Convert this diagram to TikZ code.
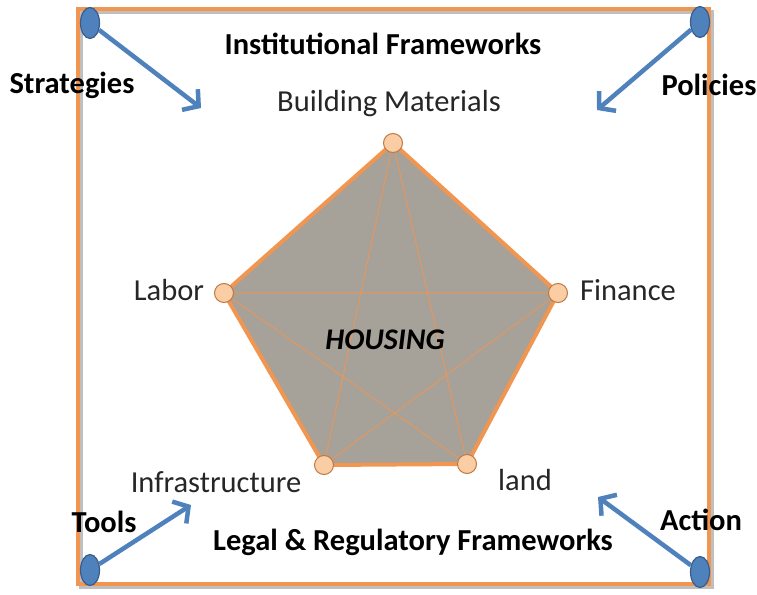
\documentclass[tikz,border=0pt]{standalone}
\usepackage{fontspec}
\setmainfont{Carlito}
\usetikzlibrary{arrows.meta}
\definecolor{frameor}{RGB}{240,150,80}
\definecolor{arrowblue}{RGB}{79,129,189}
\definecolor{darkblue}{RGB}{56,93,138}
\definecolor{pentfill}{RGB}{166,161,153}
\definecolor{peach}{RGB}{250,205,165}
\tikzset{
  corner/.style={ellipse, draw=darkblue, fill=arrowblue, line width=1.2pt, minimum width=19pt, minimum height=31pt, inner sep=0pt},
  bigarrow/.style={arrowblue, line width=4.5pt, -{Straight Barb[length=11pt,width=26pt,line width=4.5pt]}},
  boldlabel/.style={font=\fontsize{30.5}{33}\selectfont\bfseries, text=black},
  vlabel/.style={font=\fontsize{30.5}{33}\selectfont, text=black!85},
  vertex/.style={circle, draw=frameor!80!black, fill=peach, line width=1pt, minimum size=19pt, inner sep=0pt},
}
\usetikzlibrary{shapes.geometric}
\begin{document}
\begin{tikzpicture}[x=1pt,y=-1pt]
\useasboundingbox (0,0) rectangle (757,594);
\fill[white] (0,0) rectangle (757,594);
% frame with shadow
\draw[gray!50, line width=4pt] (81,12) rectangle (712,587);
\draw[frameor, line width=4pt] (78,9) rectangle (709,584);
% pentagon
\coordinate (A) at (393,143);
\coordinate (B) at (558,293);
\coordinate (C) at (467,464);
\coordinate (D) at (324,465);
\coordinate (E) at (224,293);
\fill[pentfill] (A) -- (B) -- (C) -- (D) -- (E) -- cycle;
\draw[frameor!70!pentfill, line width=1.2pt] (A) -- (C) -- (E) -- (B) -- (D) -- cycle;
\draw[frameor, line width=4pt, line join=round] (A) -- (B) -- (C) -- (D) -- (E) -- cycle;
\node[vertex] (vA) at (A) {};
\node[vertex] (vB) at (B) {};
\node[vertex] (vC) at (C) {};
\node[vertex] (vD) at (D) {};
\node[vertex] (vE) at (E) {};
\node[font=\fontsize{30}{32}\selectfont\bfseries\itshape] (housing) at (385,340) {HOUSING};
% vertex labels
\node[vlabel] (bm) at (389,104) {Building Materials};
\node[vlabel] (labor) at (169,290) {Labor};
\node[vlabel] (fin) at (628,290) {Finance};
\node[vlabel] (infra) at (216,482) {Infrastructure};
\node[vlabel] (land) at (525,480) {land};
% frame labels
\node[boldlabel] (inst) at (383,44) {Institutional Frameworks};
\node[boldlabel] (legal) at (413,542) {Legal \& Regulatory Frameworks};
\node[boldlabel] (strat) at (72,85) {Strategies};
\node[boldlabel] (pol) at (709,85) {Policies};
\node[boldlabel] (tools) at (104,522) {Tools};
\node[boldlabel] (action) at (701,520) {Action};
% corner ellipses and arrows
\node[corner] (c1) at (90,23) {};
\node[corner] (c2) at (700,22) {};
\node[corner] (c3) at (90,570) {};
\node[corner] (c4) at (700,572) {};
\coordinate (t1) at (201,108);
\coordinate (t2) at (597,110);
\coordinate (t3) at (191,505);
\coordinate (t4) at (598,497);
\draw[bigarrow] (c1) -- (t1);
\draw[bigarrow] (c2) -- (t2);
\draw[bigarrow] (c3) -- (t3);
\draw[bigarrow] (c4) -- (t4);
\end{tikzpicture}
\end{document}
